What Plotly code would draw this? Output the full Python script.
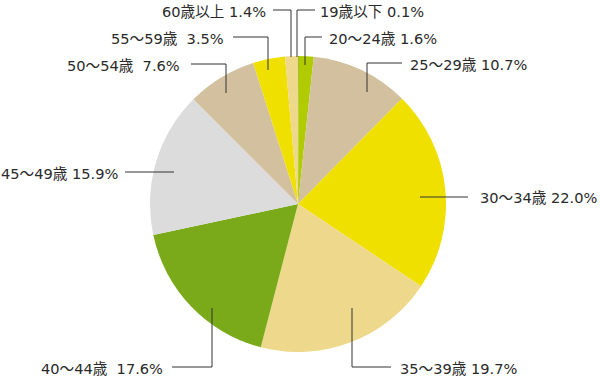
import plotly.graph_objects as go

# ---- data ----
categories = ["19歳以下", "20〜24歳", "25〜29歳", "30〜34歳", "35〜39歳",
              "40〜44歳", "45〜49歳", "50〜54歳", "55〜59歳", "60歳以上"]
shares = [0.1, 1.6, 10.7, 22.0, 19.7, 17.6, 15.9, 7.6, 3.5, 1.4]
label_sep = [" ", " ", " ", " ", " ", "\u00a0 ", " ", "\u00a0 ", "\u00a0 ", " "]

# ---- styles / layout ----
colors = ["#8bb51a", "#b0cc00", "#d2c09e", "#f0e000", "#edd88b",
          "#7aaa1a", "#dcdcdc", "#d2c09e", "#f0e000", "#edd88b"]
W, H = 600, 376
CX, CY, R = 298, 204, 148
FONT = "DejaVu Sans, Noto Sans CJK JP"

# leader-line polylines (pixels) and label anchors: (x, y, xanchor)
leaders = [
    ([(315, 10), (297, 10), (297, 57)], (318, 11, "left")),
    ([(322, 37), (305, 37), (305, 65)], (327, 38, "left")),
    ([(402, 63), (367, 63), (367, 92)], (408, 64, "left")),
    ([(468, 197), (420, 197)], (478, 198, "left")),
    ([(391, 367), (352, 367), (352, 308)], (398, 368, "left")),
    ([(172, 367), (212, 367), (212, 308)], (165, 368, "right")),
    ([(125, 172), (174, 172)], (120, 173, "right")),
    ([(191, 64), (226, 64), (226, 93)], (182, 65, "right")),
    ([(233, 37), (268, 37), (268, 70)], (226, 38, "right")),
    ([(273, 10), (291, 10), (291, 57)], (268, 11, "right")),
]

def px(x, y):
    return x / W, 1 - y / H

fig = go.Figure()
fig.add_trace(go.Pie(
    labels=categories, values=shares, sort=False, direction="clockwise",
    rotation=0, marker=dict(colors=colors, line=dict(width=0)),
    textinfo="none", hoverinfo="label+percent", showlegend=False,
    domain=dict(x=[(CX - R) / W, (CX + R) / W], y=[1 - (CY + R) / H, 1 - (CY - R) / H]),
))

shapes = []
annotations = []
for cat, val, sep, (pts, (lx, ly, anc)) in zip(categories, shares, label_sep, leaders):
    for (x0, y0), (x1, y1) in zip(pts[:-1], pts[1:]):
        a0 = px(x0, y0); a1 = px(x1, y1)
        shapes.append(dict(type="line", xref="paper", yref="paper",
                           x0=a0[0], y0=a0[1], x1=a1[0], y1=a1[1],
                           line=dict(color="#333333", width=1)))
    ax, ay = px(lx, ly)
    annotations.append(dict(text=f"{cat}{sep}{val:.1f}%", x=ax, y=ay, xref="paper", yref="paper",
                            xanchor=anc, yanchor="middle", showarrow=False,
                            font=dict(family=FONT, size=14.6, color="#2a2a2a")))

fig.update_layout(width=W, height=H, autosize=False, margin=dict(l=0, r=0, t=0, b=0),
                  paper_bgcolor="white", plot_bgcolor="white",
                  shapes=shapes, annotations=annotations)
fig.write_html("out.html")
